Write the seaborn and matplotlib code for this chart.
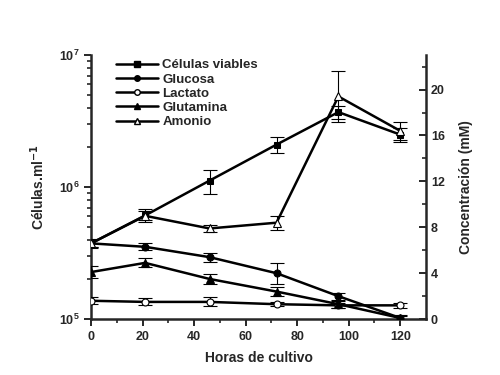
import numpy as np
import pandas as pd
import matplotlib
matplotlib.use("Agg")
import matplotlib.pyplot as plt
from matplotlib.lines import Line2D
import seaborn as sns

# Data
horas = [0, 21, 46, 72, 96, 120]

celulas = [3.75e5, 6.1e5, 1.12e6, 2.1e6, 3.7e6, 2.5e6]
celulas_err = [0.3e5, 0.7e5, 2.3e5, 0.3e6, 0.4e6, 0.3e6]

glucosa = [6.6, 6.3, 5.4, 4.0, 2.0, 0.1]
glucosa_err = [0.3, 0.3, 0.4, 0.9, 0.3, 0.3]

lactato = [1.6, 1.5, 1.5, 1.3, 1.2, 1.2]
lactato_err = [0.3, 0.3, 0.4, 0.2, 0.2, 0.2]

glutamina = [4.1, 4.9, 3.5, 2.4, 1.3, 0.1]
glutamina_err = [0.5, 0.4, 0.4, 0.4, 0.3, 0.2]

amonio = [6.6, 9.0, 7.9, 8.4, 19.4, 16.4]
amonio_err = [0.3, 0.4, 0.3, 0.6, 2.2, 0.8]

labels = ["Células viables", "Glucosa", "Lactato", "Glutamina", "Amonio"]

sns.set_style("ticks")
plt.rcParams["font.family"] = ["Liberation Sans", "DejaVu Sans"]
plt.rcParams["font.weight"] = "bold"

fig = plt.figure(figsize=(5, 3.75), dpi=100)
ax = fig.add_axes([0.182, 0.149, 0.67, 0.704])
ax2 = ax.twinx()

# left axis: viable cells (log)
df_cel = pd.DataFrame({"horas": horas, "valor": celulas})
sns.lineplot(data=df_cel, x="horas", y="valor", ax=ax, color="black", lw=1.8,
             marker="s", markersize=5, markerfacecolor="black",
             markeredgecolor="black", zorder=4)
ax.errorbar(horas, celulas, yerr=celulas_err, fmt="none", ecolor="black",
            elinewidth=0.8, capsize=5, capthick=0.8, zorder=3)

# right axis: concentrations
series = [
    (glucosa, glucosa_err, "o", "black", 5),
    (lactato, lactato_err, "o", "white", 5),
    (glutamina, glutamina_err, "^", "black", 6),
    (amonio, amonio_err, "^", "white", 6),
]
for vals, errs, mk, fc, ms in series:
    d = pd.DataFrame({"horas": horas, "valor": vals})
    sns.lineplot(data=d, x="horas", y="valor", ax=ax2, color="black", lw=1.8,
                 marker=mk, markersize=ms, markerfacecolor=fc,
                 markeredgecolor="black", markeredgewidth=0.8, zorder=4)
    ax2.errorbar(horas, vals, yerr=errs, fmt="none", ecolor="black",
                 elinewidth=0.8, capsize=5, capthick=0.8, zorder=3)

ax.set_yscale("log")
ax.set_ylim(1e5, 1e7)
ax.set_xlim(0, 130)
ax2.set_ylim(0, 23)
ax.set_xticks([0, 20, 40, 60, 80, 100, 120])
ax.set_xticks(np.arange(10, 130, 20), minor=True)
ax2.set_yticks([0, 4, 8, 12, 16, 20])
ax2.set_yticks([2, 6, 10, 14, 18, 22], minor=True)

for a in (ax, ax2):
    a.spines["top"].set_visible(False)
    for s in a.spines.values():
        s.set_linewidth(1.8)
ax.spines["right"].set_visible(False)
ax2.spines["left"].set_visible(False)
ax2.spines["bottom"].set_visible(False)

ax.tick_params(axis="both", which="major", labelsize=9, width=1.4, length=5)
ax.tick_params(axis="both", which="minor", width=1.2, length=3)
ax2.tick_params(axis="y", which="major", direction="in", labelsize=9, width=1.4, length=5)
ax2.tick_params(axis="y", which="minor", direction="in", width=1.2, length=3)
for lab in ax.get_xticklabels() + ax.get_yticklabels() + ax2.get_yticklabels():
    lab.set_fontweight("bold")

ax.set_xlabel("Horas de cultivo", fontsize=10, fontweight="bold", labelpad=6)
ax.set_ylabel("Células.ml$^{-1}$", fontsize=10, fontweight="bold", labelpad=8)
ax2.set_ylabel("Concentración (mM)", fontsize=10, fontweight="bold", labelpad=10)

handles = [
    Line2D([], [], color="black", lw=1.8, marker="s", markersize=4, markerfacecolor="black"),
    Line2D([], [], color="black", lw=1.8, marker="o", markersize=4, markerfacecolor="black"),
    Line2D([], [], color="black", lw=1.8, marker="o", markersize=4, markerfacecolor="white"),
    Line2D([], [], color="black", lw=1.8, marker="^", markersize=5, markerfacecolor="black"),
    Line2D([], [], color="black", lw=1.8, marker="^", markersize=5, markerfacecolor="white"),
]
ax2.legend(handles, labels, loc="upper left", bbox_to_anchor=(0.04, 1.03),
           frameon=False, handlelength=3.2, handletextpad=0.3,
           labelspacing=0.15, prop={"weight": "bold", "size": 9.5})

fig.savefig("out.png", dpi=100)
